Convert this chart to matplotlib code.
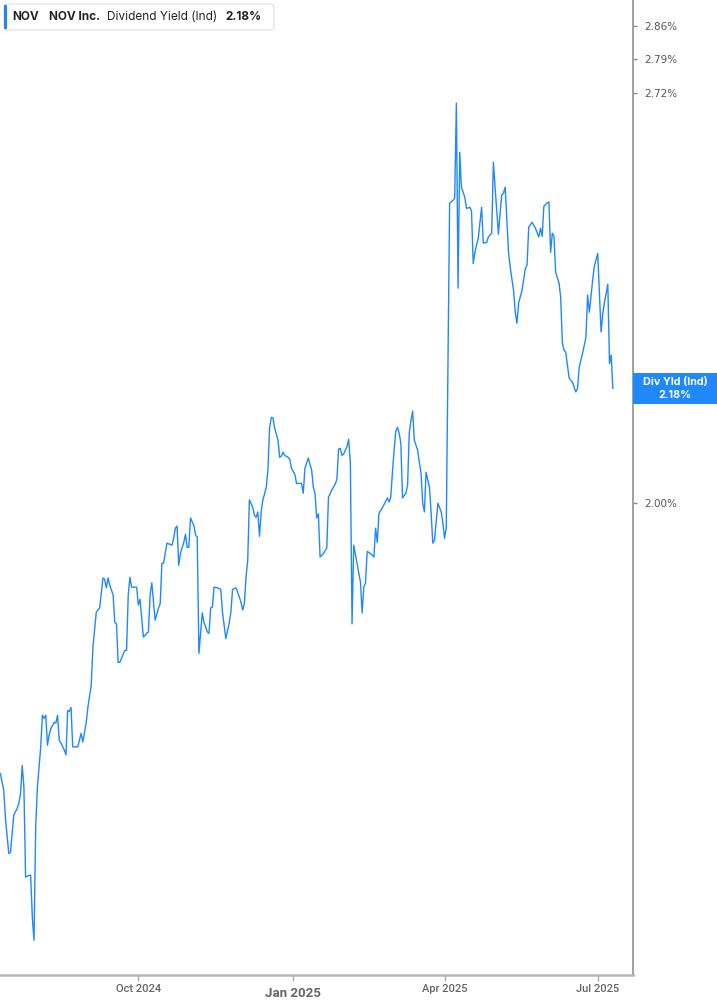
import pandas as pd
import matplotlib
matplotlib.use("Agg")
import matplotlib.pyplot as plt
from matplotlib.patches import FancyBboxPatch, Rectangle
from matplotlib.ticker import FixedLocator, NullLocator, FuncFormatter

# NOV dividend yield (%)
dates = [
    "2024-07-11", "2024-07-13", "2024-07-14", "2024-07-16", "2024-07-17", "2024-07-19",
    "2024-07-21", "2024-07-22", "2024-07-23", "2024-07-24", "2024-07-25", "2024-07-26",
    "2024-07-28", "2024-07-29", "2024-07-30", "2024-07-31", "2024-08-01", "2024-08-02",
    "2024-08-04", "2024-08-05", "2024-08-06", "2024-08-07", "2024-08-08", "2024-08-09",
    "2024-08-10", "2024-08-12", "2024-08-13", "2024-08-14", "2024-08-15", "2024-08-16",
    "2024-08-18", "2024-08-19", "2024-08-20", "2024-08-21", "2024-08-22", "2024-08-23",
    "2024-08-25", "2024-08-26", "2024-08-28", "2024-08-29", "2024-08-31", "2024-09-01",
    "2024-09-03", "2024-09-04", "2024-09-06", "2024-09-08", "2024-09-10", "2024-09-11",
    "2024-09-12", "2024-09-13", "2024-09-14", "2024-09-16", "2024-09-17", "2024-09-18",
    "2024-09-19", "2024-09-20", "2024-09-22", "2024-09-23", "2024-09-24", "2024-09-25",
    "2024-09-26", "2024-09-27", "2024-09-30", "2024-10-01", "2024-10-02", "2024-10-04",
    "2024-10-06", "2024-10-07", "2024-10-08", "2024-10-09", "2024-10-11", "2024-10-13",
    "2024-10-14", "2024-10-15", "2024-10-16", "2024-10-18", "2024-10-20", "2024-10-21",
    "2024-10-22", "2024-10-23", "2024-10-24", "2024-10-25", "2024-10-26", "2024-10-28",
    "2024-10-29", "2024-10-30", "2024-10-31", "2024-11-01", "2024-11-03", "2024-11-04",
    "2024-11-05", "2024-11-06", "2024-11-08", "2024-11-09", "2024-11-11", "2024-11-12",
    "2024-11-13", "2024-11-14", "2024-11-15", "2024-11-17", "2024-11-19", "2024-11-20",
    "2024-11-22", "2024-11-24", "2024-11-25", "2024-11-26", "2024-11-28", "2024-11-29",
    "2024-12-01", "2024-12-02", "2024-12-03", "2024-12-04", "2024-12-05", "2024-12-06",
    "2024-12-08", "2024-12-09", "2024-12-10", "2024-12-11", "2024-12-12", "2024-12-13",
    "2024-12-14", "2024-12-15", "2024-12-16", "2024-12-17", "2024-12-18", "2024-12-19",
    "2024-12-20", "2024-12-21", "2024-12-23", "2024-12-24", "2024-12-25", "2024-12-26",
    "2024-12-27", "2024-12-29", "2024-12-30", "2024-12-31", "2025-01-02", "2025-01-03",
    "2025-01-05", "2025-01-06", "2025-01-07", "2025-01-08", "2025-01-10", "2025-01-12",
    "2025-01-13", "2025-01-14", "2025-01-15", "2025-01-16", "2025-01-17", "2025-01-19",
    "2025-01-21", "2025-01-22", "2025-01-24", "2025-01-26", "2025-01-27", "2025-01-28",
    "2025-01-29", "2025-01-30", "2025-01-31", "2025-02-02", "2025-02-03", "2025-02-04",
    "2025-02-05", "2025-02-06", "2025-02-08", "2025-02-10", "2025-02-11", "2025-02-12",
    "2025-02-13", "2025-02-14", "2025-02-16", "2025-02-18", "2025-02-19", "2025-02-20",
    "2025-02-21", "2025-02-23", "2025-02-24", "2025-02-25", "2025-02-26", "2025-02-27",
    "2025-02-28", "2025-03-01", "2025-03-02", "2025-03-03", "2025-03-04", "2025-03-05",
    "2025-03-06", "2025-03-07", "2025-03-09", "2025-03-10", "2025-03-11", "2025-03-12",
    "2025-03-13", "2025-03-14", "2025-03-16", "2025-03-17", "2025-03-18", "2025-03-19",
    "2025-03-20", "2025-03-21", "2025-03-23", "2025-03-24", "2025-03-25", "2025-03-26",
    "2025-03-28", "2025-03-30", "2025-03-31", "2025-04-01", "2025-04-02", "2025-04-04",
    "2025-04-06", "2025-04-07", "2025-04-08", "2025-04-09", "2025-04-10", "2025-04-11",
    "2025-04-13", "2025-04-14", "2025-04-16", "2025-04-17", "2025-04-18", "2025-04-19",
    "2025-04-21", "2025-04-23", "2025-04-24", "2025-04-26", "2025-04-27", "2025-04-29",
    "2025-04-30", "2025-05-01", "2025-05-03", "2025-05-04", "2025-05-05", "2025-05-06",
    "2025-05-07", "2025-05-09", "2025-05-10", "2025-05-12", "2025-05-13", "2025-05-14",
    "2025-05-15", "2025-05-17", "2025-05-19", "2025-05-20", "2025-05-21", "2025-05-23",
    "2025-05-25", "2025-05-27", "2025-05-28", "2025-05-29", "2025-05-30", "2025-06-01",
    "2025-06-02", "2025-06-03", "2025-06-04", "2025-06-05", "2025-06-06", "2025-06-08",
    "2025-06-09", "2025-06-10", "2025-06-11", "2025-06-12", "2025-06-14", "2025-06-15",
    "2025-06-16", "2025-06-18", "2025-06-19", "2025-06-20", "2025-06-22", "2025-06-24",
    "2025-06-25", "2025-06-26", "2025-06-28", "2025-06-29", "2025-07-01", "2025-07-03",
    "2025-07-04", "2025-07-05", "2025-07-07", "2025-07-08", "2025-07-09", "2025-07-10",
]
yields = [
    1.633, 1.613, 1.580, 1.538, 1.539, 1.583,
    1.591, 1.597, 1.609, 1.643, 1.616, 1.511,
    1.513, 1.513, 1.466, 1.441, 1.569, 1.616,
    1.666, 1.706, 1.702, 1.706, 1.668, 1.681,
    1.689, 1.697, 1.696, 1.706, 1.674, 1.671,
    1.662, 1.656, 1.712, 1.711, 1.716, 1.666,
    1.666, 1.666, 1.683, 1.672, 1.696, 1.716,
    1.745, 1.795, 1.843, 1.849, 1.891, 1.889,
    1.877, 1.891, 1.881, 1.867, 1.829, 1.827,
    1.775, 1.775, 1.786, 1.791, 1.791, 1.867,
    1.892, 1.878, 1.878, 1.853, 1.861, 1.809,
    1.814, 1.816, 1.867, 1.884, 1.832, 1.849,
    1.855, 1.912, 1.912, 1.941, 1.939, 1.938,
    1.948, 1.963, 1.966, 1.909, 1.926, 1.942,
    1.954, 1.935, 1.935, 1.978, 1.967, 1.953,
    1.950, 1.787, 1.842, 1.829, 1.816, 1.814,
    1.849, 1.850, 1.878, 1.877, 1.875, 1.843,
    1.807, 1.828, 1.843, 1.875, 1.877, 1.871,
    1.857, 1.846, 1.855, 1.892, 1.916, 2.005,
    1.994, 1.982, 1.979, 1.987, 1.951, 1.987,
    2.005, 2.014, 2.024, 2.050, 2.116, 2.133,
    2.132, 2.116, 2.097, 2.070, 2.072, 2.078,
    2.073, 2.070, 2.067, 2.053, 2.044, 2.030,
    2.030, 2.030, 2.015, 2.053, 2.069, 2.050,
    2.024, 2.015, 1.978, 1.984, 1.921, 1.926,
    1.934, 2.009, 2.020, 2.029, 2.036, 2.083,
    2.084, 2.073, 2.075, 2.087, 2.098, 2.062,
    1.827, 1.938, 1.911, 1.885, 1.842, 1.878,
    1.884, 1.929, 1.926, 1.921, 1.963, 1.942,
    1.985, 1.993, 1.998, 2.003, 2.008, 2.002,
    2.009, 2.047, 2.081, 2.111, 2.117, 2.108,
    2.092, 2.008, 2.015, 2.027, 2.108, 2.128,
    2.143, 2.097, 2.081, 2.062, 2.046, 2.000,
    1.987, 2.047, 2.024, 1.985, 1.941, 1.945,
    2.000, 1.987, 1.970, 1.948, 1.964, 2.505,
    2.510, 2.514, 2.700, 2.350, 2.602, 2.535,
    2.516, 2.495, 2.497, 2.490, 2.394, 2.414,
    2.440, 2.497, 2.431, 2.432, 2.442, 2.449,
    2.583, 2.535, 2.447, 2.488, 2.520, 2.524,
    2.535, 2.414, 2.387, 2.346, 2.308, 2.289,
    2.324, 2.346, 2.385, 2.391, 2.460, 2.469,
    2.458, 2.442, 2.458, 2.443, 2.499, 2.505,
    2.507, 2.414, 2.449, 2.443, 2.378, 2.359,
    2.334, 2.255, 2.243, 2.240, 2.197, 2.193,
    2.190, 2.174, 2.180, 2.215, 2.238, 2.265,
    2.338, 2.308, 2.364, 2.389, 2.412, 2.274,
    2.306, 2.325, 2.357, 2.221, 2.235, 2.180,
]

ticker = "NOV"
company = "NOV Inc."
metric = "Dividend Yield (Ind)"
metric_short = "Div Yld (Ind)"
y_ticks = [2.00, 2.72, 2.79, 2.86]
x_ticks = ["2024-10-01", "2025-01-01", "2025-04-01", "2025-07-01"]
x_labels = ["Oct 2024", "Jan 2025", "Apr 2025", "Jul 2025"]

blue = "#1f88fb"
W, H = 717, 1005

fig = plt.figure(figsize=(W / 100, H / 100), dpi=100)
ax = fig.add_axes([0, 30 / H, 632.7 / W, 975 / H])

x = pd.to_datetime(dates)
ax.plot(x, yields, color=blue, lw=1.0)

ax.set_yscale("log")
ax.set_ylim(1.404, 2.917)
ax.set_xlim(pd.Timestamp("2024-07-10 19:00"), pd.Timestamp("2025-07-21 19:00"))

ax.yaxis.set_major_locator(FixedLocator(y_ticks))
ax.yaxis.set_minor_locator(NullLocator())
ax.yaxis.set_major_formatter(FuncFormatter(lambda v, p: f"{v:.2f}%"))
ax.yaxis.tick_right()
ax.tick_params(axis="y", length=3, width=1, color="#888888", pad=5,
               labelsize=7.5, labelcolor="#555555")

ax.set_xticks(pd.to_datetime(x_ticks))
ax.set_xticklabels([])
ax.xaxis.set_minor_locator(NullLocator())
ax.tick_params(axis="x", length=4, width=1, color="#aaaaaa")
for d, lab in zip(pd.to_datetime(x_ticks), x_labels):
    bold = lab.startswith("Jan")
    ax.text(d, -18 / 975 if bold else -14 / 975, lab, transform=ax.get_xaxis_transform(),
            ha="center", va="center", family="Roboto",
            fontsize=9.5 if bold else 8, fontweight="bold" if bold else "medium",
            color="#666666")

for s in ["left", "top"]:
    ax.spines[s].set_visible(False)
ax.spines["right"].set_color("#999999")
ax.spines["right"].set_linewidth(1.3)
ax.spines["bottom"].set_color("#b5b5b5")
ax.spines["bottom"].set_linewidth(1.8)


def fx(px):
    return px / W


def fy(py):
    return 1 - py / H


# header box
fig.add_artist(FancyBboxPatch((fx(4), fy(30)), fx(270), 26 / H,
                              boxstyle="round,pad=0,rounding_size=0.004",
                              transform=fig.transFigure, facecolor="white",
                              edgecolor="#e3e3e3", lw=1))
fig.add_artist(Rectangle((fx(4), fy(29)), fx(3), 24 / H, transform=fig.transFigure,
                         facecolor=blue, edgecolor="none"))
hy = fy(17)
fig.text(fx(12.5), hy, ticker, fontsize=8.5, fontweight="bold", family="Inter",
         color="#222222", va="center")
fig.text(fx(49), hy, company, fontsize=8.5, fontweight="bold", family="Inter",
         color="#222222", va="center")
fig.text(fx(107), hy, metric, fontsize=8.5, family="Inter", color="#222222", va="center")
fig.text(fx(225), hy, f"{yields[-1]:.2f}%", fontsize=8.5, fontweight="bold",
         family="Inter", color="#222222", va="center")

# last value label on the right axis
fig.canvas.draw()
ylast = ax.get_yaxis_transform().transform((1.0, yields[-1]))[1] / fig.bbox.height
fig.add_artist(Rectangle((fx(632.7), ylast - 15.5 / H), fx(717 - 632.7), 31 / H,
                         transform=fig.transFigure, facecolor=blue, edgecolor="none"))
cx = fx(675)
fig.text(cx, ylast + 6.5 / H, metric_short, fontsize=7.8, fontweight="bold",
         family="Inter", color="white", ha="center", va="center")
fig.text(cx, ylast - 6.5 / H, f"{yields[-1]:.2f}%", fontsize=7.8, fontweight="bold",
         family="Inter", color="white", ha="center", va="center")

fig.savefig("out.png", dpi=100)
